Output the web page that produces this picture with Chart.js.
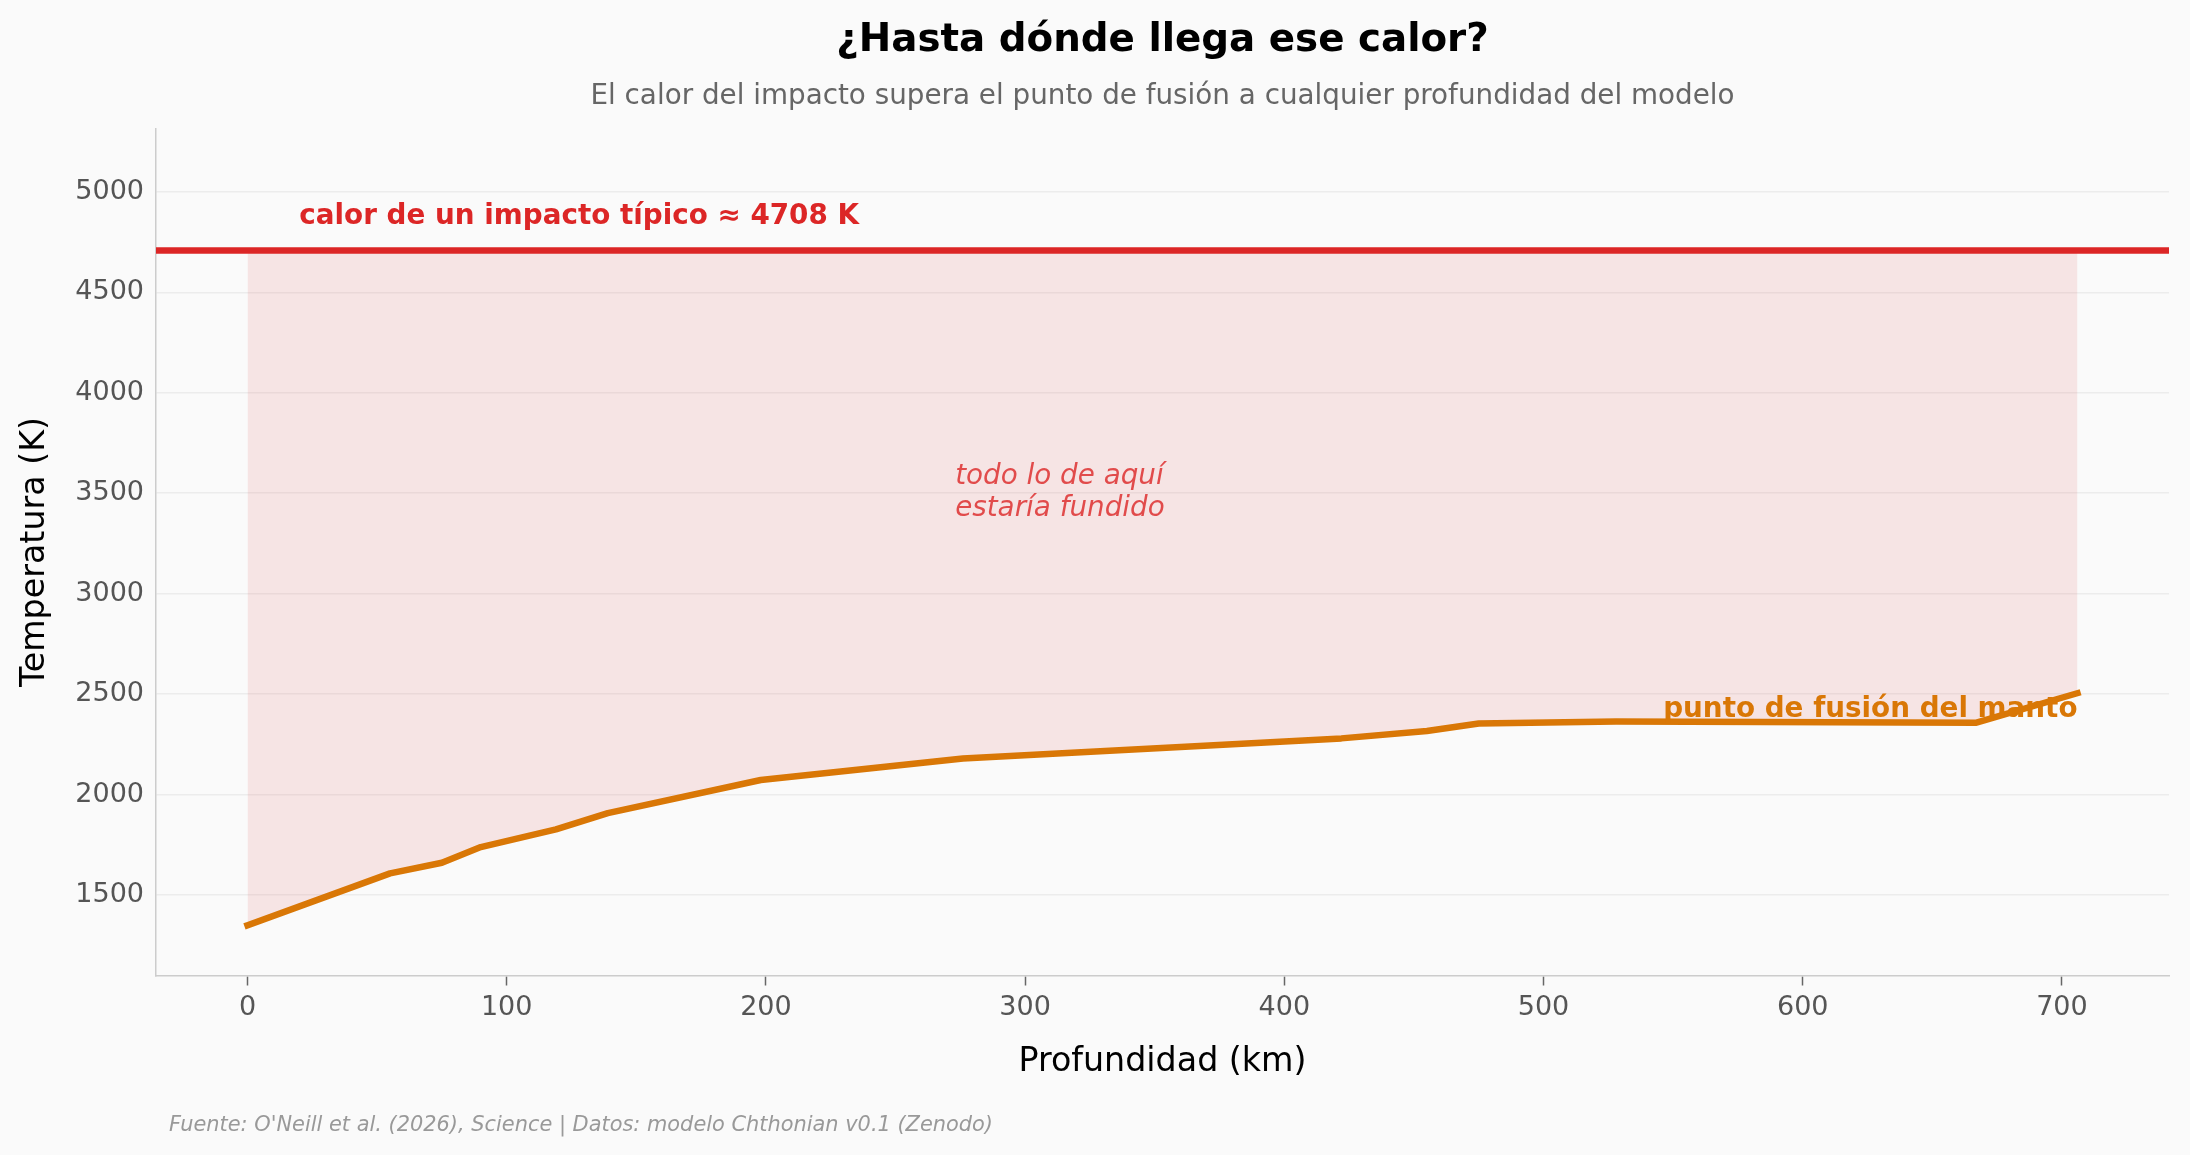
<!DOCTYPE html>
<html>
<head>
<meta charset="utf-8">
<script src="https://cdn.jsdelivr.net/npm/chart.js@4"></script>
<style>
  html, body { margin: 0; padding: 0; background: #fafafa; }
  canvas { display: block; }
</style>
</head>
<body>
<canvas id="heatChart" width="2190" height="1155"></canvas>
<script>
// data
const depthKm   = [0, 55, 75, 90, 119, 139, 198, 276, 422, 455, 475, 528, 667, 706];
const meltTempK = [1350, 1608, 1661, 1739, 1827, 1908, 2073, 2180, 2280, 2317, 2354, 2364, 2358, 2505];
const impactTempK = 4708;

const xTicks = [0, 100, 200, 300, 400, 500, 600, 700];
const yTicks = [1500, 2000, 2500, 3000, 3500, 4000, 4500, 5000];
const xRange = [-35.3, 741.3];
const yRange = [1100, 5315];

const FONT = "'DejaVu Sans', sans-serif";
const RED = "#dc2626";
const ORANGE = "#d97706";

Chart.defaults.font.family = FONT;

const meltPoints = depthKm.map((d, i) => ({ x: d, y: meltTempK[i] }));
const impactTop = depthKm.map(d => ({ x: d, y: impactTempK }));
const impactLine = [{ x: xRange[0], y: impactTempK }, { x: xRange[1], y: impactTempK }];

/* ========= TEXT OVERLAY ========= */
const textPlugin = {
  id: "texts",
  afterDatasetsDraw(chart) {
    const { ctx, scales } = chart;
    const x = scales.x, y = scales.y;
    ctx.save();

    // impact label
    ctx.fillStyle = RED;
    ctx.font = `bold 27.8px ${FONT}`;
    ctx.textAlign = "left";
    ctx.textBaseline = "alphabetic";
    ctx.fillText("calor de un impacto típico ≈ " + impactTempK + " K", x.getPixelForValue(20), y.getPixelForValue(4838));

    // melting label
    ctx.fillStyle = ORANGE;
    ctx.textAlign = "right";
    ctx.fillText("punto de fusión del manto", x.getPixelForValue(706), y.getPixelForValue(2386));

    // region note
    ctx.fillStyle = "rgba(220,38,38,0.8)";
    ctx.font = `italic 27.8px ${FONT}`;
    ctx.textAlign = "left";
    ctx.fillText("todo lo de aquí", x.getPixelForValue(273), y.getPixelForValue(3545));
    ctx.fillText("estaría fundido", x.getPixelForValue(273), y.getPixelForValue(3388));

    ctx.restore();
  },
  afterDraw(chart) {
    const { ctx, chartArea } = chart;
    const cx = (chartArea.left + chartArea.right) / 2;
    ctx.save();
    ctx.textAlign = "center";
    ctx.textBaseline = "alphabetic";
    ctx.fillStyle = "#000";
    ctx.font = `bold 38.8px ${FONT}`;
    ctx.fillText("¿Hasta dónde llega ese calor?", cx, 51);
    ctx.fillStyle = "#666";
    ctx.font = `27.8px ${FONT}`;
    ctx.fillText("El calor del impacto supera el punto de fusión a cualquier profundidad del modelo", cx, 104);

    ctx.textAlign = "left";
    ctx.fillStyle = "#999";
    ctx.font = `italic 20.9px ${FONT}`;
    ctx.fillText("Fuente: O'Neill et al. (2026), Science | Datos: modelo Chthonian v0.1 (Zenodo)", 169, 1131);
    ctx.restore();
  }
};

new Chart(document.getElementById("heatChart"), {
  type: "line",
  data: {
    datasets: [
      {
        label: "impacto",
        data: impactLine,
        borderColor: RED,
        borderWidth: 6.5,
        borderCapStyle: "butt",
        pointRadius: 0,
        fill: false
      },
      {
        label: "fusión",
        data: meltPoints,
        borderColor: ORANGE,
        borderWidth: 6.5,
        borderCapStyle: "square",
        borderJoinStyle: "round",
        pointRadius: 0,
        tension: 0,
        fill: false
      },
      {
        label: "zona fundida",
        data: impactTop,
        borderWidth: 0,
        borderColor: "rgba(0,0,0,0)",
        backgroundColor: "rgba(220,38,38,0.1)",
        pointRadius: 0,
        fill: 1
      }
    ]
  },
  options: {
    responsive: false,
    animation: false,
    devicePixelRatio: 1,
    layout: { padding: { top: 128.5, right: 21, left: 0, bottom: 0 } },
    plugins: {
      legend: { display: false },
      tooltip: { enabled: false },
      title: { display: false }
    },
    scales: {
      x: {
        type: "linear",
        min: xRange[0],
        max: xRange[1],
        afterBuildTicks: s => { s.ticks = xTicks.map(v => ({ value: v })); },
        afterFit: s => { s.height = 179.5; },
        ticks: { font: { size: 27 }, color: "#555", padding: 6.5, callback: v => String(v) },
        grid: { drawOnChartArea: false, drawTicks: true, tickLength: 10, tickColor: "#666", tickWidth: 1.5 },
        border: { color: "#ccc", width: 1.5 },
        title: { display: true, text: "Profundidad (km)", font: { size: 33.3 }, color: "#000", padding: { top: 0, bottom: 73 } }
      },
      y: {
        min: yRange[0],
        max: yRange[1],
        afterBuildTicks: s => { s.ticks = yTicks.map(v => ({ value: v })); },
        afterFit: s => { s.width = 156; },
        ticks: { font: { size: 27 }, color: "#555", padding: 12, callback: v => String(v) },
        grid: { color: "#ececec", lineWidth: 1.5, drawTicks: false },
        border: { color: "#ccc", width: 1.5 },
        title: { display: true, text: "Temperatura (K)", font: { size: 33.3 }, color: "#000", padding: { top: 15, bottom: 0 } }
      }
    }
  },
  plugins: [textPlugin]
});
</script>
</body>
</html>
